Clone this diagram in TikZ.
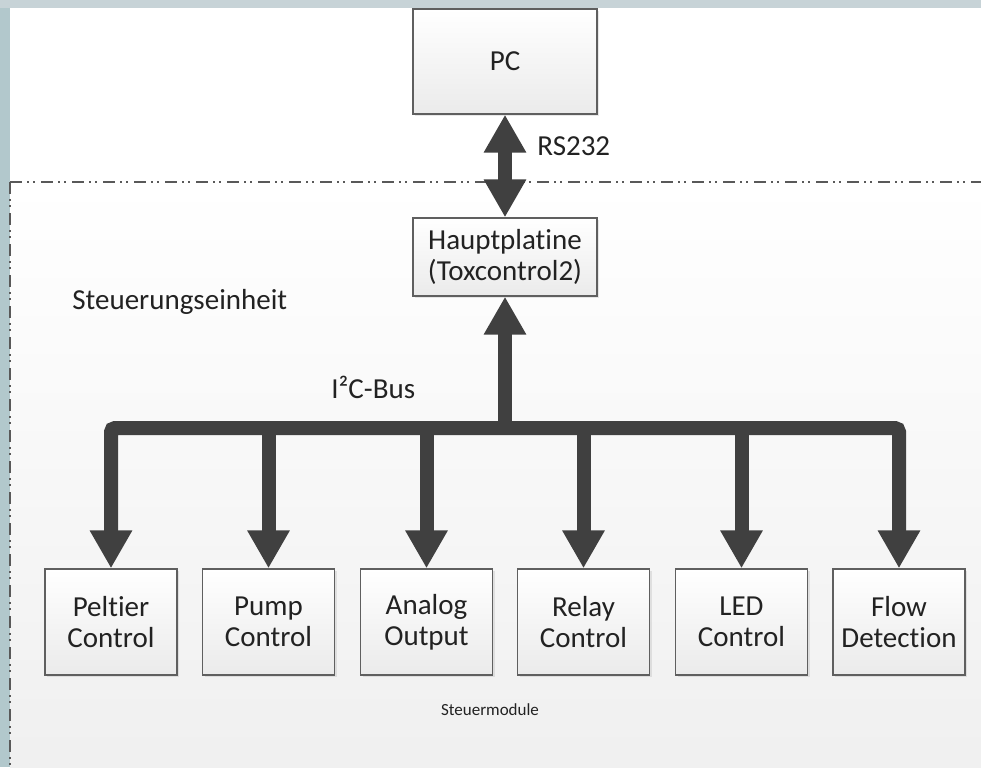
\documentclass[tikz,border=0pt]{standalone}
\usepackage{fontspec}
\setmainfont{Carlito}[Ligatures=NoCommon]
\usetikzlibrary{arrows.meta,shadows}
\definecolor{bgblue}{RGB}{199,211,215}
\definecolor{bgleft}{RGB}{178,200,204}
\definecolor{arrowgray}{RGB}{64,64,64}
\definecolor{boxline}{RGB}{95,95,95}
\definecolor{txt}{RGB}{34,34,34}

\begin{document}
\begin{tikzpicture}[x=0.5pt,y=-0.5pt,
    modul/.style={draw=boxline, line width=0.7pt, top color=white, bottom color=black!8,
        drop shadow={shadow xshift=1.2pt, shadow yshift=-1.2pt, opacity=0.18},
        text=txt, align=center, font=\fontsize{14.5}{15.5}\selectfont, inner sep=0pt},
    steuerbox/.style={modul, minimum width=66pt, minimum height=53pt},
    fatarrow/.style={draw=arrowgray, line width=7pt, -{Triangle[width=20pt,length=19pt]}},
    beidseitig/.style={arrows={Triangle[width=20pt,length=19pt]-Triangle[width=20pt,length=19pt]}},
    grenze/.style={draw=black!65, line width=0.7pt, dash pattern=on 6pt off 2.5pt on 1pt off 2pt on 1pt off 3pt},
    beschrift/.style={text=txt, font=\fontsize{14.5}{15.5}\selectfont, inner sep=0pt}
  ]
        \useasboundingbox (0,0) rectangle (981,767);
        \fill[bgblue] (0,0) rectangle (981,767);
        \fill[bgleft] (0,8) rectangle (10,767);
        \fill[white] (10,8) rectangle (981,182);
        \shade[top color=white, bottom color=black!6] (10,182) rectangle (981,767);
        \draw[grenze] (10,182) -- (981,182);
        \draw[grenze] (10,182) -- (10,767);

        \node[modul, minimum width=92pt, minimum height=52.5pt] (pc) at (505,61.5) {PC};
        \node[modul, minimum width=92pt, minimum height=39pt] (haupt) at (505,257) {Hauptplatine\\(Toxcontrol2)};
        \node[steuerbox] (peltier) at (111,622) {Peltier\\Control};
        \node[steuerbox] (pump) at (268.5,622) {Pump\\Control};
        \node[steuerbox] (analog) at (426.5,622) {Analog\\Output};
        \node[steuerbox] (relay) at (583.5,622) {Relay\\Control};
        \node[steuerbox] (led) at (741.5,622) {LED\\Control};
        \node[steuerbox] (flow) at (899,622) {Flow\\Detection};

        \coordinate (bus) at (505,428);
        \draw[fatarrow, beidseitig] (haupt.north) -- (pc.south);
        \draw[fatarrow] (bus) -- (haupt.south);
        \draw[fatarrow, beidseitig, rounded corners=2pt] (peltier.north) |- (bus) -| (flow.north);
        \draw[fatarrow] (pump.north |- bus) -- (pump.north);
        \draw[fatarrow] (analog.north |- bus) -- (analog.north);
        \draw[fatarrow] (relay.north |- bus) -- (relay.north);
        \draw[fatarrow] (led.north |- bus) -- (led.north);

        \node[beschrift, anchor=west] (rs) at (537,146) {RS232};
        \node[beschrift, anchor=west] (einheit) at (72,302) {Steuerungseinheit};
        \node[beschrift, anchor=west] (i2c) at (331,387) {I²C-Bus};
        \node[text=txt, font=\fontsize{8.5}{10}\selectfont, inner sep=0pt] (module) at (490,710) {Steuermodule};
\end{tikzpicture}
\end{document}
